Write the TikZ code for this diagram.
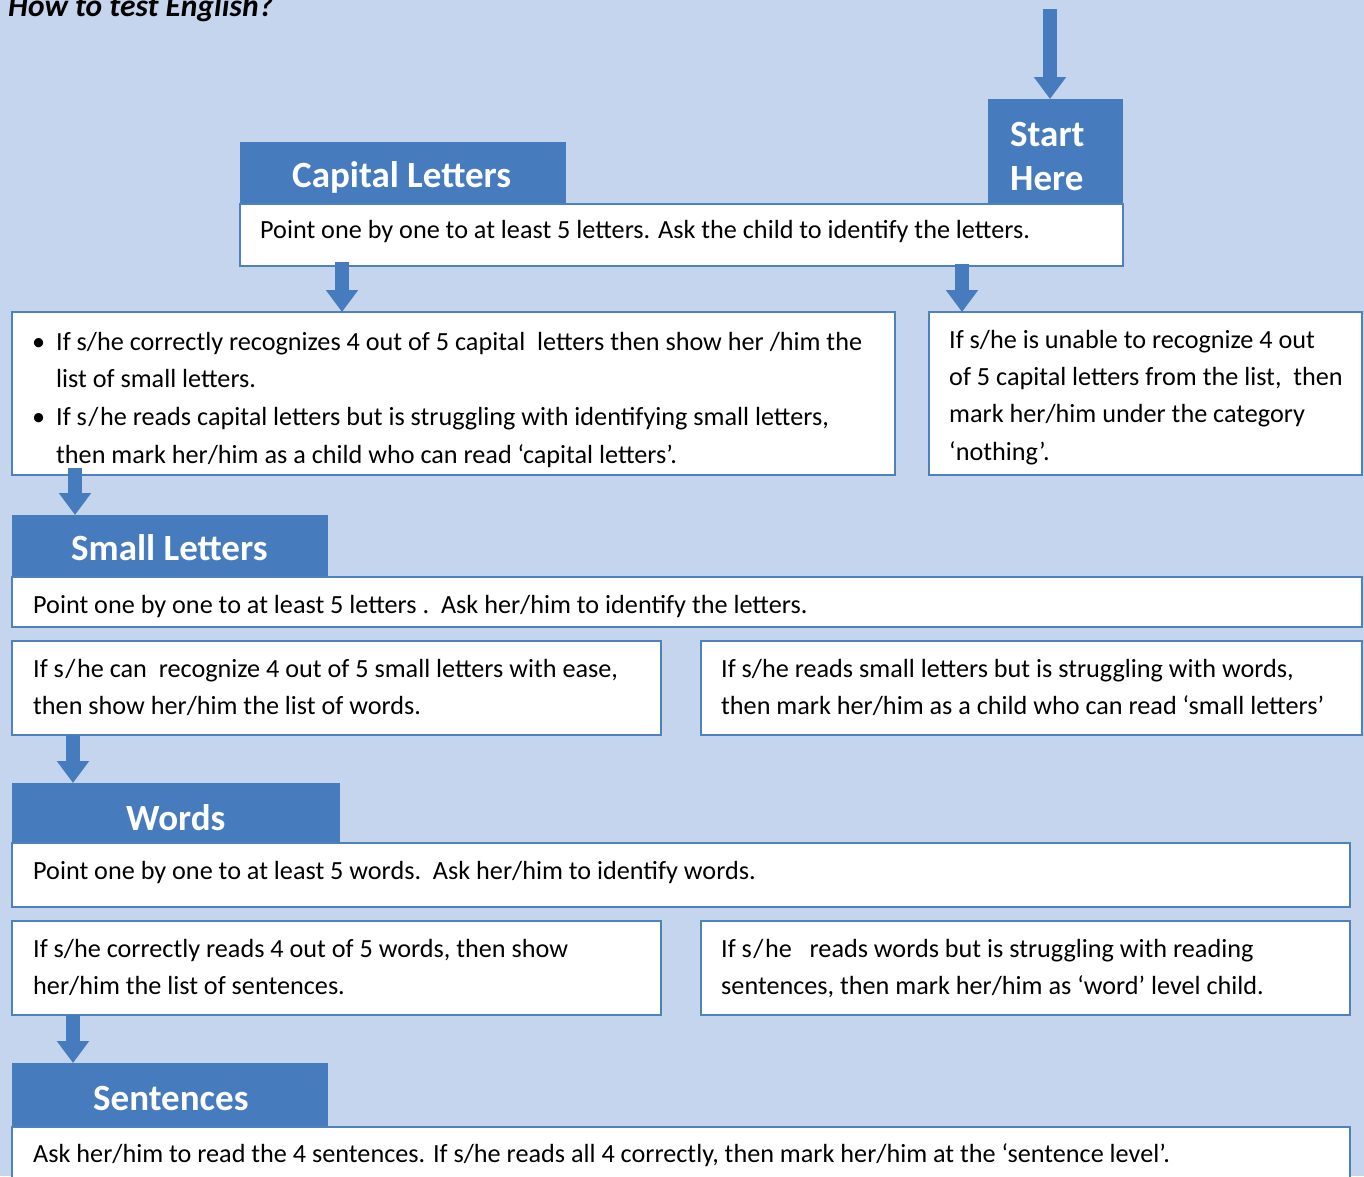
\documentclass[tikz,border=0pt]{standalone}
\usepackage{fontspec}
\setmainfont{Carlito}
\usetikzlibrary{arrows.meta}
\definecolor{bgcol}{HTML}{C6D5EE}
\definecolor{hblue}{HTML}{467CBE}
\definecolor{bcol}{HTML}{4F81BD}
\tikzset{
  box/.style={draw=bcol, line width=1.6pt, fill=white, inner sep=0pt, outer sep=0pt, anchor=north west},
  hdr/.style={fill=hblue, draw=none, inner sep=0pt, outer sep=0pt, anchor=north west},
  txt/.style={anchor=base west, inner sep=0pt, font=\fontsize{26.2}{30}\selectfont, text=black},
  htxt/.style={anchor=base west, inner sep=0pt, font=\fontsize{37}{40}\selectfont\bfseries, text=white},
  barrow/.style={draw=hblue, line width=14pt, -{Triangle[width=31pt,length=22pt]}, shorten >=0pt},
}
\newcommand{\sheW}{s\kern1.5pt/\kern1.5pt he}
\begin{document}
\begin{tikzpicture}[x=1pt,y=-1pt]
\useasboundingbox (0,0) rectangle (1364,1176);
\fill[bgcol] (0,0) rectangle (1364,1176);
% title
\node[anchor=base west, inner sep=0pt, font=\fontsize{31.5}{34}\selectfont\bfseries\itshape] (title) at (8,16) {How to test English?};
% Start here
\node[hdr, minimum width=135pt, minimum height=106pt] (start) at (988,99) {};
\node[htxt] (starttxt) at (1010,146) {Start};
\node[htxt] (heretxt) at (1010,190) {Here};
\coordinate (startin) at (1050,9);
% Capital letters
\node[hdr, minimum width=326pt, minimum height=64pt] (caph) at (240,142) {};
\node[htxt] (caphtxt) at (292,187) {Capital Letters};
\node[box, minimum width=883pt, minimum height=62pt] (capbox) at (240,204) {};
\node[txt] (captxt) at (260,238) {Point one by one to at least 5 letters. Ask the child to identify the letters.};
% bullet box
\node[box, minimum width=883pt, minimum height=163pt] (bulbox) at (12,312) {};
\node[txt] (b1) at (32,350) {\textbullet};
\node[txt] (l1) at (56,350) {If s/he correctly recognizes 4 out of 5 capital\ \ letters then show her /him the};
\node[txt] (l2) at (56,387) {list of small letters.};
\node[txt] (b2) at (32,425) {\textbullet};
\node[txt] (l3) at (56,425) {If \sheW{} reads capital letters but is struggling with identifying small letters,};
\node[txt] (l4) at (56,463) {then mark her/him as a child who can read ‘capital letters’.};
% nothing box
\node[box, minimum width=433pt, minimum height=163pt] (nobox) at (929,312) {};
\node[txt] (n1) at (949,348) {If s/he is unable to recognize 4 out};
\node[txt] (n2) at (949,385) {of 5 capital letters from the list,\ \ then};
\node[txt] (n3) at (949,422) {mark her/him under the category};
\node[txt] (n4) at (949,460) {‘nothing’.};
% Small letters
\node[hdr, minimum width=316pt, minimum height=64pt] (smh) at (12,515) {};
\node[htxt] (smhtxt) at (71,560) {Small Letters};
\node[box, minimum width=1350pt, minimum height=50pt] (smbox) at (12,577) {};
\node[txt] (smtxt) at (33,613) {Point one by one to at least 5 letters .\ \ Ask her/him to identify the letters.};
\node[box, minimum width=649pt, minimum height=94pt] (smleft) at (12,641) {};
\node[txt] (sl1) at (33,677) {If \sheW{} can\ \ recognize 4 out of 5 small letters with ease,};
\node[txt] (sl2) at (33,714) {then show her/him the list of words.};
\node[box, minimum width=661pt, minimum height=94pt] (smright) at (701,641) {};
\node[txt] (sr1) at (721,677) {If s/he reads small letters but is struggling with words,};
\node[txt] (sr2) at (721,714) {then mark her/him as a child who can read ‘small letters’};
% Words
\node[hdr, minimum width=328pt, minimum height=60pt] (wh) at (12,783) {};
\node[htxt] (whtxt) at (126,830) {Words};
\node[box, minimum width=1338pt, minimum height=64pt] (wbox) at (12,843) {};
\node[txt] (wtxt) at (33,879) {Point one by one to at least 5 words.\ \ Ask her/him to identify words.};
\node[box, minimum width=649pt, minimum height=94pt] (wleft) at (12,921) {};
\node[txt] (wl1) at (33,957) {If s/he correctly reads 4 out of 5 words, then show};
\node[txt] (wl2) at (33,994) {her/him the list of sentences.};
\node[box, minimum width=649pt, minimum height=94pt] (wright) at (701,921) {};
\node[txt] (wr1) at (721,957) {If \sheW{} \ \ reads words but is struggling with reading};
\node[txt] (wr2) at (721,994) {sentences, then mark her/him as ‘word’ level child.};
% Sentences
\node[hdr, minimum width=316pt, minimum height=64pt] (sh) at (12,1063) {};
\node[htxt] (shtxt) at (93,1110) {Sentences};
\node[box, minimum width=1338pt, minimum height=70pt] (sbox) at (12,1127) {};
\node[txt] (stxt) at (33,1162) {Ask her/him to read the 4 sentences. If s/he reads all 4 correctly, then mark her/him at the ‘sentence level’.};
% arrows
\draw[barrow] (startin) -- (start.north -| startin);
\draw[barrow] ([xshift=102pt,yshift=4pt]capbox.south west) -- ([xshift=330pt]bulbox.north west);
\draw[barrow] ([xshift=-161pt,yshift=2pt]capbox.south east) -- ([xshift=33pt]nobox.north west);
\draw[barrow] ([xshift=63pt,yshift=7pt]bulbox.south west) -- ([xshift=63pt]smh.north west);
\draw[barrow] ([xshift=61pt]smleft.south west) -- ([xshift=61pt]wh.north west);
\draw[barrow] ([xshift=61pt]wleft.south west) -- ([xshift=61pt]sh.north west);
\end{tikzpicture}
\end{document}
